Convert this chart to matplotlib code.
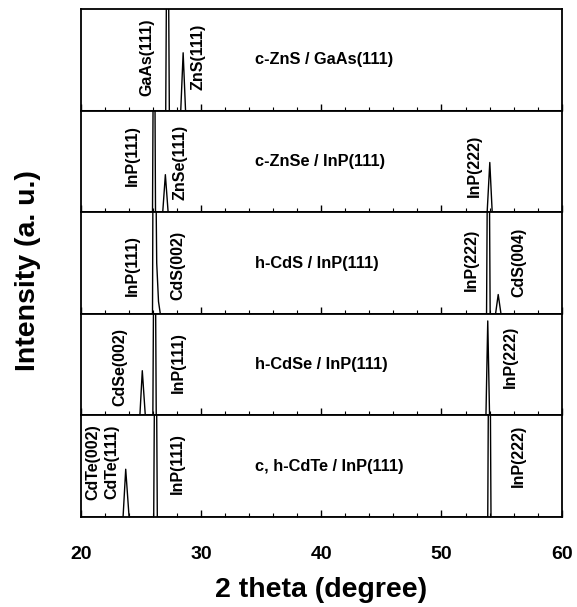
import matplotlib
matplotlib.use("Agg")
import matplotlib.pyplot as plt
from matplotlib.ticker import MultipleLocator

plt.rcParams['font.family'] = ['Liberation Sans', 'DejaVu Sans']
plt.rcParams['font.weight'] = 'bold'

# XRD profiles (2 theta in degree, intensity scaled so panel top = 1)
tt_zns = [20, 27.05, 27.2, 27.35, 28.3, 28.5, 28.7, 60]
i_zns = [0, 0, 3.0, 0, 0, 0.57, 0, 0]

tt_znse = [20, 25.95, 26.08, 26.2, 26.8, 27.02, 27.25, 53.8, 54.02, 54.22, 60]
i_znse = [0, 0, 3.0, 0, 0, 0.37, 0, 0, 0.49, 0, 0]

tt_cds = [20, 25.95, 26.05, 26.3, 26.45, 26.6, 53.75, 53.9, 54.05, 54.5, 54.72, 54.95, 60]
i_cds = [0, 0, 3.5, 0.5, 0.12, 0, 0, 3.0, 0, 0, 0.19, 0, 0]

tt_cdse = [20, 24.9, 25.1, 25.35, 25.98, 26.12, 26.26, 53.7, 53.85, 54.0, 60]
i_cdse = [0, 0, 0.44, 0, 0, 3.0, 0, 0, 0.93, 0, 0]

tt_cdte = [20, 23.5, 23.72, 24.0, 26.05, 26.2, 26.35, 53.85, 53.98, 54.12, 60]
i_cdte = [0, 0, 0.47, 0, 0, 3.0, 0, 0, 3.0, 0, 0]

titles = ["c-ZnS / GaAs(111)", "c-ZnSe / InP(111)", "h-CdS / InP(111)",
          "h-CdSe / InP(111)", "c, h-CdTe / InP(111)"]

# peak labels: (text, 2theta position, height in panel fraction)
lab_zns = [("GaAs(111)", 25.5, 0.53), ("ZnS(111)", 29.7, 0.53)]
lab_znse = [("InP(111)", 24.3, 0.56), ("ZnSe(111)", 28.2, 0.49), ("InP(222)", 52.75, 0.46)]
lab_cds = [("InP(111)", 24.3, 0.48), ("CdS(002)", 28.1, 0.48),
           ("InP(222)", 52.5, 0.53), ("CdS(004)", 56.4, 0.51)]
lab_cdse = [("CdSe(002)", 23.2, 0.48), ("InP(111)", 28.1, 0.52), ("InP(222)", 55.7, 0.58)]
lab_cdte = [("InP(111)", 28.0, 0.53), ("InP(222)", 56.4, 0.6)]

xs = [tt_zns, tt_znse, tt_cds, tt_cdse, tt_cdte]
ys = [i_zns, i_znse, i_cds, i_cdse, i_cdte]
labs = [lab_zns, lab_znse, lab_cds, lab_cdse, lab_cdte]

fig = plt.figure(figsize=(5.77, 6.07), dpi=100)
left, width = 0.1404, 0.833
top, bottom = 0.985, 0.1483
h = (top - bottom) / 5

axes = []
for k in range(5):
    ax = fig.add_axes([left, top - (k + 1) * h, width, h])
    ax.plot(xs[k], ys[k], color='black', lw=1.0)
    ax.set_xlim(20, 60)
    ax.set_ylim(0, 1)
    ax.set_yticks([])
    ax.xaxis.set_major_locator(MultipleLocator(10))
    ax.xaxis.set_minor_locator(MultipleLocator(2))
    ax.tick_params(axis='x', which='major', direction='in', length=5, width=1)
    ax.tick_params(axis='x', which='minor', direction='in', length=3, width=0.8)
    for s in ax.spines.values():
        s.set_linewidth(1.3)
    if k < 4:
        ax.tick_params(axis='x', labelbottom=False)
    ax.text(34.5, 0.5, titles[k], ha='left', va='center', fontsize=11.8,
            fontweight='bold')
    for txt, x, y in labs[k]:
        ax.text(x, y, txt, rotation=90, ha='center', va='center', fontsize=11.5,
                fontweight='bold')
    axes.append(ax)

# the two CdTe labels in the bottom panel sit at the top edge
axes[4].text(21.0, 0.91, "CdTe(002)", rotation=90, ha='center', va='top',
             fontsize=11.5, fontweight='bold')
axes[4].text(22.6, 0.91, "CdTe(111)", rotation=90, ha='center', va='top',
             fontsize=11.5, fontweight='bold')

axes[4].tick_params(axis='x', labelsize=14, pad=21)
for lbl in axes[4].get_xticklabels():
    lbl.set_fontweight('bold')
axes[4].set_xlabel("2 theta (degree)", fontsize=20.5, fontweight='bold', labelpad=10)

fig.text(0.049, 0.555, "Intensity (a. u.)", rotation=90, ha='center', va='center',
         fontsize=20.5, fontweight='bold')

fig.savefig("out.png", dpi=100)
